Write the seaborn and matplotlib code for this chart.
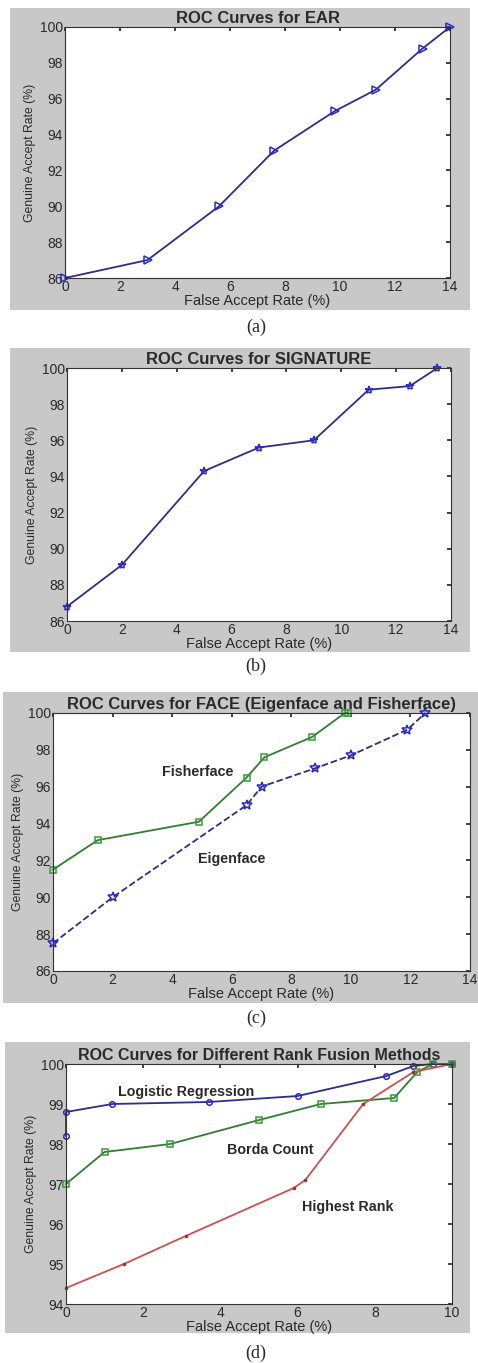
import matplotlib
matplotlib.use("Agg")
import matplotlib.pyplot as plt
import seaborn as sns
import pandas as pd
from matplotlib.patches import Rectangle

# ---- data ----
ear_far = [0, 3, 5.6, 7.6, 9.8, 11.3, 13, 14]
ear_gar = [86, 87, 90, 93.1, 95.3, 96.5, 98.8, 100]

sig_far = [0, 2, 5, 7, 9, 11, 12.5, 13.5]
sig_gar = [86.8, 89.1, 94.3, 95.6, 96.0, 98.8, 99.0, 100]

fisher_far = [0, 1.5, 4.9, 6.5, 7.1, 8.7, 9.8, 9.9]
fisher_gar = [91.5, 93.1, 94.1, 96.5, 97.6, 98.7, 100, 100]
eigen_far = [0, 2, 6.5, 7, 8.8, 10, 11.9, 12.5]
eigen_gar = [87.5, 90, 95, 96, 97, 97.7, 99.1, 100]

logreg_far = [0, 0, 1.2, 3.7, 6, 8.3, 9, 9.5, 10]
logreg_gar = [98.2, 98.8, 99.0, 99.05, 99.2, 99.7, 99.95, 100, 100]
borda_far = [0, 1, 2.7, 5, 6.6, 8.5, 9.1, 9.5, 10]
borda_gar = [97.0, 97.8, 98.0, 98.6, 99.0, 99.15, 99.8, 100, 100]
highest_far = [0, 1.5, 3.1, 5.9, 6.2, 7.7, 9, 10]
highest_gar = [94.4, 95.0, 95.7, 96.9, 97.1, 99.0, 99.8, 100]

sns.set_theme(style="white")
plt.rcParams['font.family'] = ['Liberation Sans', 'DejaVu Sans']

W, H = 478, 1363
fig = plt.figure(figsize=(W / 100, H / 100), dpi=100)
fig.patch.set_facecolor("white")

BLUE_LINE = "#2d2d8a"
BLUE_MK = "#2a2ac8"
GREEN_LINE = "#2f7f2f"
GREEN_MK = "#3a9a3a"
RED = "#d05050"
TXT = "#2a2a2a"


def px_rect(x0, y0, x1, y1):
    # pixel box (top-left origin) -> figure fraction
    return [x0 / W, 1 - y1 / H, (x1 - x0) / W, (y1 - y0) / H]


def panel(frame, box, title, xlim, ylim, yticks, caption, cap_y, tsize=11):
    fr = px_rect(*frame)
    # gray matlab-style figure background behind each panel
    fig.patches.append(Rectangle((fr[0], fr[1]), fr[2], fr[3],
                                 transform=fig.transFigure,
                                 facecolor="#c8c8c8", edgecolor="none", zorder=-5))
    ax = fig.add_axes(px_rect(*box))
    ax.set_facecolor("white")
    ax.set_xlim(*xlim)
    ax.set_ylim(*ylim)
    ax.set_xticks(range(int(xlim[0]), int(xlim[1]) + 1, 2))
    ax.set_yticks(yticks)
    ax.tick_params(direction="in", top=True, right=True, length=3,
                   labelsize=10, pad=1.5, colors=TXT)
    for s in ax.spines.values():
        s.set_color("#333333")
        s.set_linewidth(0.8)
    ax.set_title(title, fontsize=tsize, fontweight="bold", pad=3, color=TXT)
    fig.text(256 / W, 1 - cap_y / H, caption, ha="center", va="center",
             fontsize=13, color=TXT, family=["Liberation Serif", "DejaVu Serif"])
    return ax


def draw(ax, x, y, color, mcolor, marker, ms, ls="-"):
    df = pd.DataFrame({"far": x, "gar": y})
    sns.lineplot(data=df, x="far", y="gar", ax=ax, sort=False, estimator=None,
                 color=color, linewidth=1.3, linestyle=ls, marker=marker,
                 markersize=ms, markeredgecolor=mcolor, markerfacecolor="none",
                 markeredgewidth=1.1, clip_on=False)
    ax.set_xlabel("False Accept Rate (%)", fontsize=10.5, labelpad=0, color=TXT)
    ax.set_ylabel("Genuine Accept Rate (%)", fontsize=8.8, labelpad=3, color=TXT)


def note(ax, x, y, s):
    ax.text(x, y, s, fontsize=10.3, fontweight="bold", color=TXT,
            ha="center", va="center")


# (a) EAR
ax = panel((10, 8, 470, 310), (65, 27, 450, 278), "ROC Curves for EAR",
           (0, 14), (86, 100), range(86, 101, 2), "(a)", 327, tsize=12)
draw(ax, ear_far, ear_gar, BLUE_LINE, BLUE_MK, ">", 6)

# (b) SIGNATURE
ax = panel((10, 348, 470, 652), (67, 368, 451, 621), "ROC Curves for SIGNATURE",
           (0, 14), (86, 100), range(86, 101, 2), "(b)", 666, tsize=12)
draw(ax, sig_far, sig_gar, BLUE_LINE, BLUE_MK, "*", 6)

# (c) FACE
ax = panel((3, 692, 478, 1003), (53, 713, 470, 971),
           "ROC Curves for FACE (Eigenface and Fisherface)",
           (0, 14), (86, 100), range(86, 101, 2), "(c)", 1018, tsize=12)
draw(ax, fisher_far, fisher_gar, GREEN_LINE, GREEN_MK, "s", 5)
draw(ax, eigen_far, eigen_gar, BLUE_LINE, BLUE_MK, "*", 7, ls="--")
note(ax, 4.85, 96.8, "Fisherface")
note(ax, 6.0, 92.1, "Eigenface")

# (d) Rank fusion
ax = panel((5, 1042, 470, 1333), (66, 1064, 452, 1304),
           "ROC Curves for Different Rank Fusion Methods",
           (0, 10), (94, 100), range(94, 101), "(d)", 1353, tsize=11.5)
draw(ax, logreg_far, logreg_gar, BLUE_LINE, BLUE_MK, "o", 4)
draw(ax, borda_far, borda_gar, GREEN_LINE, GREEN_MK, "s", 5)
draw(ax, highest_far, highest_gar, RED, "#a03030", ".", 3)
note(ax, 3.1, 99.3, "Logistic Regression")
note(ax, 5.3, 97.85, "Borda Count")
note(ax, 7.3, 96.43, "Highest Rank")

fig.savefig("out.png", dpi=100, facecolor="white")
